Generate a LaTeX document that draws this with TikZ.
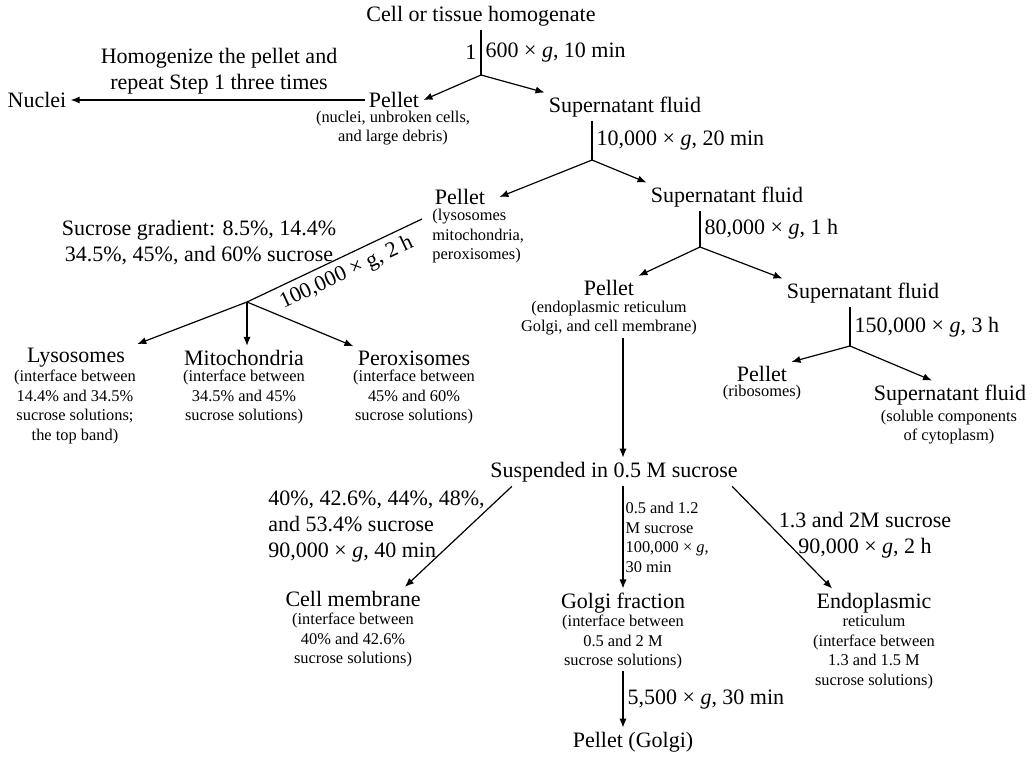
\documentclass[tikz,border=0pt]{standalone}
\usepackage{fontspec}
\setmainfont{Liberation Serif}
\usetikzlibrary{arrows.meta}

\begin{document}
\begin{tikzpicture}[x=0.5pt,y=-0.5pt,
		big/.style={font=\fontsize{11}{13}\selectfont,inner sep=2pt},
		note/.style={font=\fontsize{8.2}{9.7}\selectfont,align=center,inner sep=1pt},
		arr/.style={-{Latex[length=4.5pt,width=3.6pt]},line width=.6pt},
		ln/.style={line width=.6pt}]
		\useasboundingbox (0,0) rectangle (1032,756);
		% first spin
		\node[big] (cell) at (481,16) {Cell or tissue homogenate};
		\node[big] (pel1) at (394,100) {Pellet};
		\node[note] (pel1n) at (393,128) {(nuclei, unbroken cells,\\and large debris)};
		\node[big] (nuc) at (37,100) {Nuclei};
		\node[big,align=center] (hom) at (219,71) {Homogenize the pellet and\\repeat Step 1 three times};
		\node[big] (sup1) at (625,107) {Supernatant fluid};
		% second spin and gradient
		\node[big] (pel2) at (460,197) {Pellet};
		\node[note,align=left,anchor=north west] (pel2n) at (430,207) {(lysosomes\\mitochondria,\\peroxisomes)};
		\node[big] (sup2) at (727,197) {Supernatant fluid};
		\node[big,align=center] (grad) at (199,243) {Sucrose gradient: 8.5\%, 14.4\%\\34.5\%, 45\%, and 60\% sucrose};
		\node[big] (lys) at (76,358) {Lysosomes};
		\node[note] (lysn) at (75,407) {(interface between\\14.4\% and 34.5\%\\sucrose solutions;\\the top band)};
		\node[big] (mit) at (244,358) {Mitochondria};
		\node[note] (mitn) at (244,397) {(interface between\\34.5\% and 45\%\\sucrose solutions)};
		\node[big] (per) at (414,358) {Peroxisomes};
		\node[note] (pern) at (414,397) {(interface between\\45\% and 60\%\\sucrose solutions)};
		% third and fourth spin
		\node[big] (pel3) at (609,288) {Pellet};
		\node[note] (pel3n) at (609,318) {(endoplasmic reticulum\\Golgi, and cell membrane)};
		\node[big] (sup3) at (863,293) {Supernatant fluid};
		\node[big] (pel4) at (762,374) {Pellet};
		\node[note] (pel4n) at (762,393) {(ribosomes)};
		\node[big] (sup4) at (950,395) {Supernatant fluid};
		\node[note] (sup4n) at (949,427) {(soluble components\\of cytoplasm)};
		% membranes
		\node[big] (susp) at (614,472) {Suspended in 0.5 M sucrose};
		\node[big,align=left,anchor=west] (cmc) at (264,527) {40\%, 42.6\%, 44\%, 48\%,\\and 53.4\% sucrose\\90,000 × \textit{g}, 40 min};
		\node[big] (cm) at (353,599) {Cell membrane};
		\node[note] (cmn) at (353,640) {(interface between\\40\% and 42.6\%\\sucrose solutions)};
		\node[big] (gol) at (623,603) {Golgi fraction};
		\node[note] (goln) at (623,642) {(interface between\\0.5 and 2 M\\sucrose solutions)};
		\node[big] (pgol) at (633,742) {Pellet (Golgi)};
		\node[big,align=center] (erc) at (865,535) {1.3 and 2M sucrose\\90,000 × \textit{g}, 2 h};
		\node[big] (er) at (874,603) {Endoplasmic};
		\node[note] (ern) at (874,652) {reticulum\\(interface between\\1.3 and 1.5 M\\sucrose solutions)};
		\path (481,75) coordinate (b1) (592,160) coordinate (b2) (700,247) coordinate (b3)
			(850,346) coordinate (b4) (247,302) coordinate (b5);
		% connectors
		\draw[ln] (cell.south) -- node[big,left]{1} node[big,right]{600 × \textit{g}, 10 min} (b1);
		\draw[arr] (b1) -- (pel1.east);
		\draw[arr] (b1) -- (sup1.north west);
		\draw[arr] (pel1.west) -- (nuc.east);
		\draw[ln] (b2 |- sup1.south) -- node[big,right]{10,000 × \textit{g}, 20 min} (b2);
		\draw[arr] (b2) -- ([xshift=5pt]pel2.east);
		\draw[arr] (b2) -- (sup2.north west);
		\draw[ln] (b3 |- sup2.south) -- node[big,right]{80,000 × \textit{g}, 1 h} (b3);
		\draw[arr] (b3) -- (pel3.north east);
		\draw[arr] (b3) -- (sup3.north west);
		\draw[ln] (b4 |- sup3.south) -- node[big,right]{150,000 × \textit{g}, 3 h} (b4);
		\draw[arr] (b4) -- (pel4.north east);
		\draw[arr] (b4) -- ([xshift=-9pt]sup4.north);
		\draw[ln] (b5) -- node[big,rotate=25,anchor=north,inner sep=3pt,pos=.53]{100,000 × g, 2 h} ([shift={(-4pt,-6pt)}]pel2n.north west);
		\draw[arr] (b5) -- ([xshift=4pt]lys.north east);
		\draw[arr] (b5) -- (b5 |- mit.north);
		\draw[arr] (b5) -- (per.north west);
		\draw[arr] (pel3n.south -| gol) -- (susp.north -| gol);
		\draw[arr] ([xshift=13pt]susp.south west) -- ([xshift=-10pt]cm.north east);
		\draw[arr] (susp.south -| gol) -- node[note,right,align=left]{0.5 and 1.2\\M sucrose\\100,000 × \textit{g},\\30 min} (gol.north);
		\draw[arr] (goln.south) -- node[big,right]{5,500 × \textit{g}, 30 min} (pgol.north -| goln);
		\draw[arr] ([xshift=-5pt]susp.south east) -- ([xshift=10pt]er.north west);
	\end{tikzpicture}
\end{document}
